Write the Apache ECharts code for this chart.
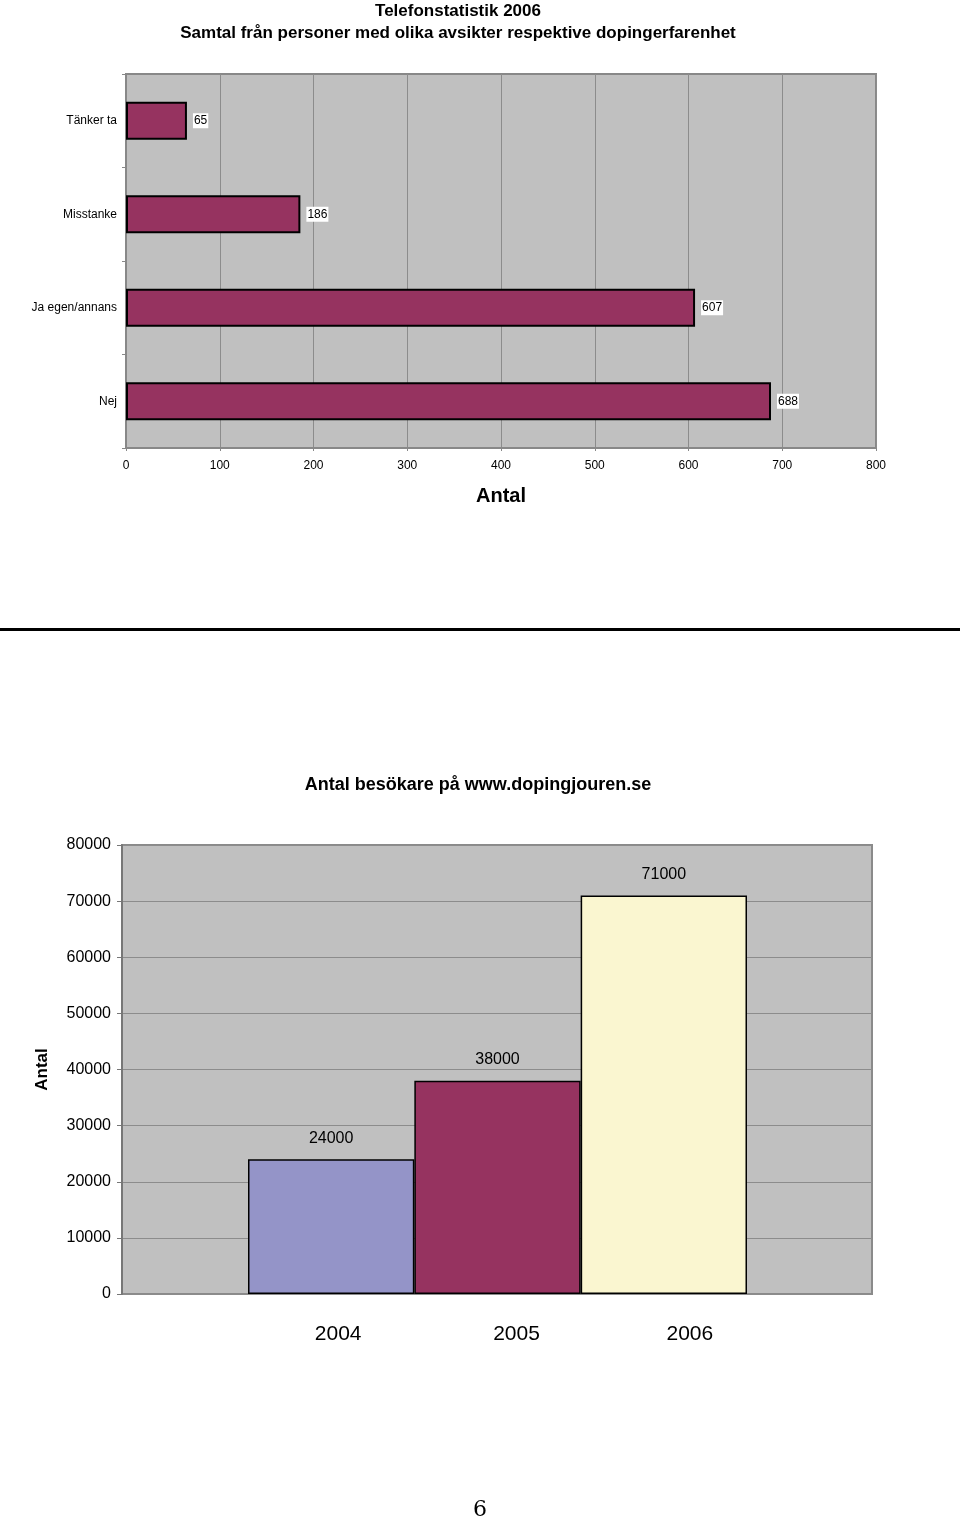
<!DOCTYPE html>
<html>
<head>
<meta charset="utf-8">
<script src="https://cdn.jsdelivr.net/npm/echarts@6/dist/echarts.min.js"></script>
<style>
html,body{margin:0;padding:0;background:#fff;}
#c{width:960px;height:1517px;}
</style>
</head>
<body>
<div id="c"></div>
<script>
// ---- Data ----
const callCategories = ['Tänker ta', 'Misstanke', 'Ja egen/annans', 'Nej'];
const callValues = [65, 186, 607, 688];
const callTicks = [0, 100, 200, 300, 400, 500, 600, 700, 800];

const visitYears = ['2004', '2005', '2006'];
const visitValues = [24000, 38000, 71000];
const visitTicks = [0, 10000, 20000, 30000, 40000, 50000, 60000, 70000, 80000];

// ---- Styles ----
const visitColors = ['#9494c8', '#963360', '#faf6d0'];
const yearLabelPadLeft = [14, 38, 52];

const FONT = 'Liberation Sans, Arial, sans-serif';
const chart = echarts.init(document.getElementById('c'), null, {renderer: 'canvas'});

const option = {
  backgroundColor: '#ffffff',
  animation: false,
  textStyle: {fontFamily: FONT, color: '#000'},
  title: [
    {text: 'Telefonstatistik 2006', left: 453, textAlign: 'center', top: -2,
     textStyle: {fontFamily: FONT, fontSize: 17, fontWeight: 'bold', color: '#000'}},
    {text: 'Samtal från personer med olika avsikter respektive dopingerfarenhet', left: 453, textAlign: 'center', top: 20,
     textStyle: {fontFamily: FONT, fontSize: 17, fontWeight: 'bold', color: '#000'}},
    {text: 'Antal besökare på www.dopingjouren.se', left: 473, textAlign: 'center', top: 771,
     textStyle: {fontFamily: FONT, fontSize: 18, fontWeight: 'bold', color: '#000'}},
    {text: '6', left: 475, textAlign: 'center', top: 1494,
     textStyle: {fontFamily: 'DejaVu Serif, Liberation Serif, serif', fontSize: 22, fontWeight: 'normal', color: '#000'}}
  ],
  graphic: [
    {type: 'rect', shape: {x: 0, y: 628, width: 960, height: 3}, style: {fill: '#000'}}
  ],
  grid: [
    {left: 126, top: 74, width: 750, height: 374, show: true, backgroundColor: '#c0c0c0',
     borderColor: '#888', borderWidth: 2, containLabel: false},
    {left: 122, top: 845, width: 750, height: 449, show: true, backgroundColor: '#c0c0c0',
     borderColor: '#8a8a8a', borderWidth: 2, containLabel: false},
    {left: 248, top: 845, width: 499, height: 449, show: false, containLabel: false}
  ],
  xAxis: [
    {gridIndex: 0, type: 'value', min: callTicks[0], max: callTicks[callTicks.length - 1], interval: 100,
     name: 'Antal', nameLocation: 'middle', nameGap: 38,
     nameTextStyle: {fontFamily: FONT, fontSize: 20, fontWeight: 'bold', color: '#000'},
     axisLine: {show: true, lineStyle: {color: '#888', width: 2}},
     axisTick: {show: true, length: 3, lineStyle: {color: '#888'}},
     axisLabel: {fontFamily: FONT, fontSize: 12, color: '#000', margin: 12},
     splitLine: {show: true, lineStyle: {color: '#8c8c8c', width: 1}}},
    {gridIndex: 1, type: 'category', data: [''], show: false},
    {gridIndex: 2, type: 'category',
     data: visitYears.map((y, i) => ({value: y, textStyle: {padding: [0, 0, 0, yearLabelPadLeft[i]]}})),
     boundaryGap: true,
     axisLine: {show: false}, axisTick: {show: false},
     axisLabel: {fontFamily: FONT, fontSize: 21, color: '#000', margin: 30},
     splitLine: {show: false}}
  ],
  yAxis: [
    {gridIndex: 0, type: 'category', data: callCategories, inverse: true,
     axisLine: {show: true, lineStyle: {color: '#888', width: 2}},
     axisTick: {show: true, length: 4, lineStyle: {color: '#888'}},
     axisLabel: {fontFamily: FONT, fontSize: 12, color: '#000', margin: 9},
     splitLine: {show: false}},
    {gridIndex: 1, type: 'value', min: visitTicks[0], max: visitTicks[visitTicks.length - 1], interval: 10000,
     name: 'Antal', nameLocation: 'middle', nameGap: 71, nameRotate: 90,
     nameTextStyle: {fontFamily: FONT, fontSize: 17, fontWeight: 'bold', color: '#000'},
     axisLine: {show: true, lineStyle: {color: '#777', width: 2}},
     axisTick: {show: true, length: 5, lineStyle: {color: '#777'}},
     axisLabel: {fontFamily: FONT, fontSize: 16, color: '#000', margin: 11, formatter: (v) => String(v)},
     splitLine: {show: true, lineStyle: {color: '#8c8c8c', width: 1}}},
    {gridIndex: 2, type: 'value', min: visitTicks[0], max: visitTicks[visitTicks.length - 1], interval: 10000,
     show: false}
  ],
  series: [
    {type: 'bar', xAxisIndex: 0, yAxisIndex: 0, data: callValues, barWidth: 38,
     itemStyle: {color: '#963360', borderColor: '#000', borderWidth: 2},
     label: {show: true, position: 'right', distance: 6, fontFamily: FONT, fontSize: 12, color: '#000',
             backgroundColor: '#fff', padding: [2, 1, 1, 1]}},
    {type: 'bar', xAxisIndex: 2, yAxisIndex: 2, barWidth: '100%',
     data: visitValues.map((v, i) => ({value: v, itemStyle: {color: visitColors[i]}})),
     itemStyle: {borderColor: '#000', borderWidth: 1.5},
     label: {show: true, position: 'top', distance: 13, fontFamily: FONT, fontSize: 16, color: '#000'}}
  ]
};
chart.setOption(option);
</script>
</body>
</html>
